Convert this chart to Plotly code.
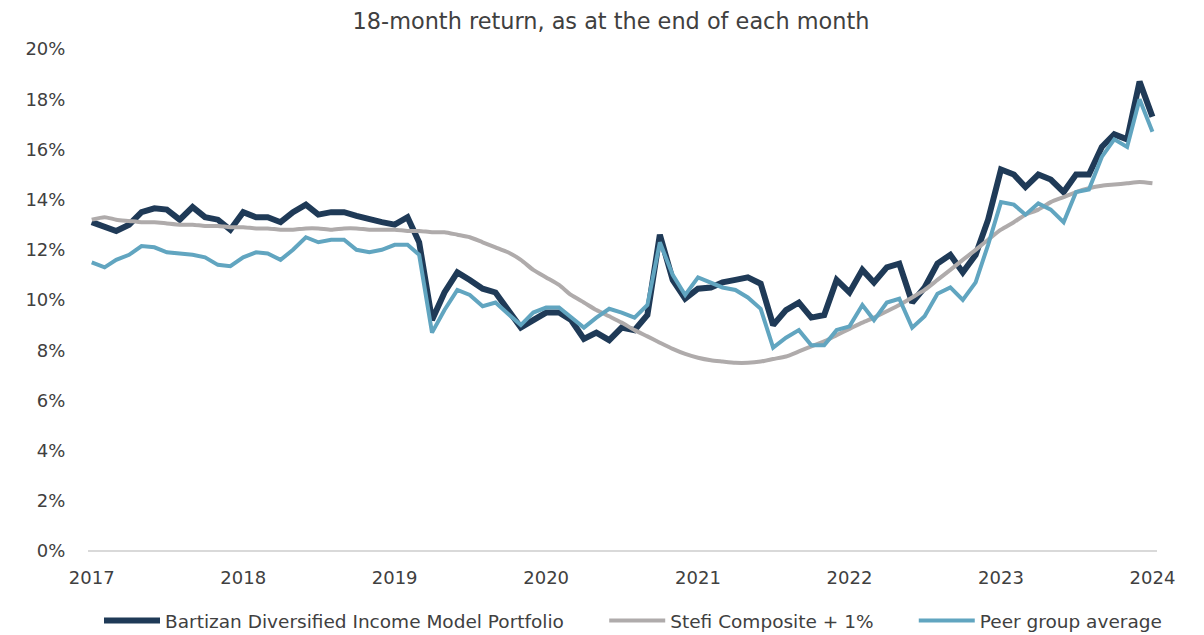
import pandas as pd
import plotly.graph_objects as go

months = pd.date_range("2017-01-01", "2024-01-01", freq="MS")

bartizan = [
    13.1, 12.9, 12.75, 13.0, 13.5, 13.65, 13.6, 13.2, 13.7, 13.3, 13.2, 12.8,
    13.5, 13.3, 13.3, 13.1, 13.5, 13.8, 13.4, 13.5, 13.5, 13.35, 13.2, 13.1,
    13.0, 13.3, 12.3, 9.2, 10.3, 11.1, 10.8, 10.45, 10.3, 9.6, 8.9, 9.2,
    9.5, 9.5, 9.2, 8.45, 8.7, 8.4, 8.9, 8.8, 9.4, 12.6, 10.8, 10.05,
    10.45, 10.5, 10.7, 10.8, 10.9, 10.65, 9.0, 9.6, 9.9, 9.3, 9.4, 10.8,
    10.3, 11.2, 10.7, 11.3, 11.45, 9.9, 10.5, 11.45, 11.8, 11.1, 11.8, 13.2,
    15.2, 15.0, 14.5, 15.0, 14.8, 14.3, 15.0, 15.0, 16.1, 16.6, 16.4, 18.7,
    17.3,
]

stefi = [
    13.2, 13.3, 13.2, 13.15, 13.1, 13.1, 13.05, 13.0, 13.0, 12.95, 12.95, 12.9,
    12.9, 12.85, 12.85, 12.8, 12.8, 12.85, 12.85, 12.8, 12.85, 12.85, 12.8, 12.8,
    12.8, 12.75, 12.75, 12.7, 12.7, 12.6, 12.5, 12.3, 12.1, 11.9, 11.6, 11.2,
    10.9, 10.6, 10.2, 9.9, 9.6, 9.35, 9.1, 8.8, 8.55, 8.3, 8.05, 7.85,
    7.7, 7.6, 7.55, 7.5, 7.5, 7.55, 7.65, 7.75, 7.95, 8.15, 8.35, 8.6,
    8.85, 9.1, 9.3, 9.55, 9.8, 10.1, 10.4, 10.8, 11.2, 11.6, 12.0, 12.4,
    12.8, 13.1, 13.4, 13.6, 13.9, 14.1, 14.3, 14.45, 14.55, 14.6, 14.65, 14.7,
    14.65,
]

peer = [
    11.5, 11.3, 11.6, 11.8, 12.15, 12.1, 11.9, 11.85, 11.8, 11.7, 11.4, 11.35,
    11.7, 11.9, 11.85, 11.6, 12.0, 12.5, 12.3, 12.4, 12.4, 12.0, 11.9, 12.0,
    12.2, 12.2, 11.8, 8.7, 9.6, 10.4, 10.2, 9.75, 9.9, 9.45, 9.0, 9.5,
    9.7, 9.7, 9.3, 8.9, 9.3, 9.65, 9.5, 9.3, 9.8, 12.3, 11.0, 10.2,
    10.9, 10.7, 10.5, 10.4, 10.1, 9.65, 8.1, 8.5, 8.8, 8.2, 8.2, 8.8,
    8.95, 9.8, 9.2, 9.9, 10.05, 8.9, 9.35, 10.25, 10.5, 10.0, 10.7, 12.2,
    13.9, 13.8, 13.4, 13.85, 13.6, 13.1, 14.3, 14.4, 15.7, 16.4, 16.1, 18.0,
    16.7,
]

series_names = [
    "Bartizan Diversified Income Model Portfolio",
    "Stefi Composite + 1%",
    "Peer group average",
]
y_ticks = [0, 2, 4, 6, 8, 10, 12, 14, 16, 18, 20]
y_tick_labels = ["0%", "2%", "4%", "6%", "8%", "10%", "12%", "14%", "16%", "18%", "20%"]
x_years = ["2017", "2018", "2019", "2020", "2021", "2022", "2023", "2024"]

FONT = "DejaVu Sans"
TXT = "#404040"
PAD = "\u00a0" * 6

fig = go.Figure()
fig.add_trace(go.Scatter(x=months, y=bartizan, name=series_names[0] + PAD, mode="lines",
                         line=dict(color="#1F3A57", width=6)))
fig.add_trace(go.Scatter(x=months, y=stefi, name=series_names[1] + PAD, mode="lines",
                         line=dict(color="#AFABAB", width=4, shape="spline", smoothing=0.6)))
fig.add_trace(go.Scatter(x=months, y=peer, name=series_names[2], mode="lines",
                         line=dict(color="#61A5C0", width=4)))

# page body has an 8px margin, so the figure is sized/offset to land at the reference position
W, H = 1196, 627
fig.update_layout(
    width=W, height=H,
    margin=dict(l=80, r=47, t=41, b=84, autoexpand=False),
    paper_bgcolor="white", plot_bgcolor="white",
    font=dict(family=FONT, size=17, color=TXT),
    title=dict(text="18-month return, as at the end of each month",
               x=603 / W, xref="container", xanchor="center",
               y=1 - 13 / H, yref="container", yanchor="middle",
               font=dict(family=FONT, size=22.4, color=TXT)),
    showlegend=True,
    legend=dict(orientation="h", x=(633 - 88) / 1069, xref="paper", xanchor="center",
                y=(551 - 621) / 502, yref="paper", yanchor="middle",
                font=dict(family=FONT, size=18.5, color=TXT),
                itemwidth=56, traceorder="normal"),
    xaxis=dict(
        type="date",
        range=["2016-12-23", "2024-01-12"],
        tickvals=[pd.Timestamp(f"{y}-01-01") for y in x_years],
        ticktext=x_years,
        showgrid=False, zeroline=False,
        showline=False,
        ticks="outside", ticklen=10, tickcolor="rgba(0,0,0,0)",
        tickfont=dict(family=FONT, size=18, color=TXT),
    ),
    yaxis=dict(
        range=[0, 20],
        tickvals=y_ticks, ticktext=y_tick_labels,
        showgrid=False, zeroline=True, zerolinecolor="#D9D9D9", zerolinewidth=2,
        showline=False,
        ticks="outside", ticklen=18, tickcolor="rgba(0,0,0,0)",
        tickfont=dict(family=FONT, size=18, color=TXT),
    ),
)

fig.write_html("out.html")
